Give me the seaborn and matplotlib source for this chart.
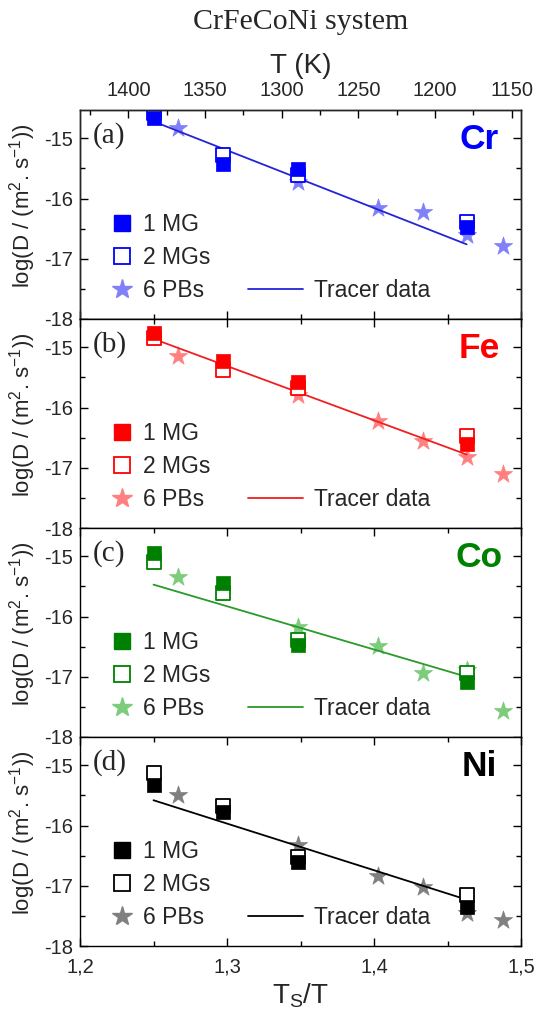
import matplotlib
matplotlib.use("Agg")
import matplotlib.pyplot as plt
from matplotlib.lines import Line2D
from matplotlib.ticker import FixedLocator, MultipleLocator, FuncFormatter
import seaborn as sns
import pandas as pd

# ---------------- data ----------------
elements = ["Cr", "Fe", "Co", "Ni"]
panel_tags = ["(a)", "(b)", "(c)", "(d)"]

x_mg = [1.25, 1.297, 1.348, 1.463]
x_pb = [1.267, 1.348, 1.403, 1.433, 1.463, 1.488]
x_tracer = [1.25, 1.463]

cr_1mg = [-14.67, -15.43, -15.51, -16.47]
cr_2mg = [-14.58, -15.27, -15.61, -16.39]
cr_6pb = [-14.83, -15.72, -16.15, -16.23, -16.61, -16.78]
cr_tracer = [-14.72, -16.76]

fe_1mg = [-14.76, -15.23, -15.57, -16.60]
fe_2mg = [-14.84, -15.37, -15.68, -16.48]
fe_6pb = [-15.14, -15.79, -16.22, -16.55, -16.82, -17.10]
fe_tracer = [-14.86, -16.78]

co_1mg = [-14.94, -15.44, -16.47, -17.09]
co_2mg = [-15.09, -15.61, -16.39, -16.93]
co_6pb = [-15.34, -16.18, -16.49, -16.94, -16.89, -17.57]
co_tracer = [-15.47, -17.00]

ni_1mg = [-15.32, -15.78, -16.60, -17.35]
ni_2mg = [-15.13, -15.67, -16.52, -17.16]
ni_6pb = [-15.50, -16.32, -16.84, -17.02, -17.46, -17.57]
ni_tracer = [-15.58, -17.23]

series_1mg = [cr_1mg, fe_1mg, co_1mg, ni_1mg]
series_2mg = [cr_2mg, fe_2mg, co_2mg, ni_2mg]
series_6pb = [cr_6pb, fe_6pb, co_6pb, ni_6pb]
series_tracer = [cr_tracer, fe_tracer, co_tracer, ni_tracer]

legend_labels = ["1 MG", "2 MGs", "6 PBs", "Tracer data"]
top_ticks = [1400, 1350, 1300, 1250, 1200, 1150]
bottom_ticks = [1.2, 1.3, 1.4, 1.5]

# ---------------- styles ----------------
main_colors = ["#0000ff", "#ff0000", "#008000", "#000000"]
star_colors = ["#8080f8", "#ff8080", "#7ccc7c", "#808080"]
line_colors = ["#2424d8", "#f02020", "#2a9a2a", "#000000"]

sns.set_theme(style="ticks")
plt.rcParams["font.family"] = ["Liberation Sans", "DejaVu Sans"]
plt.rcParams["axes.unicode_minus"] = False
plt.rcParams["mathtext.fontset"] = "custom"
plt.rcParams["mathtext.rm"] = "Liberation Sans"
plt.rcParams["mathtext.it"] = "Liberation Sans"
plt.rcParams["mathtext.bf"] = "Liberation Sans:bold"

fig = plt.figure(figsize=(5.36, 10.10), dpi=100)

left, width = 80 / 536, 441 / 536
ph = 209 / 1010
bottoms = [(1010 - 110) / 1010 - ph * (i + 1) for i in range(4)]

comma = FuncFormatter(lambda v, p: f"{v:.1f}".replace(".", ","))
SQ = 88
ST = 190
TICK_FS = 14.5
LEG_FS = 16.5

for i in range(4):
    ax = fig.add_axes([left, bottoms[i], width, ph])
    c, sc, lc = main_colors[i], star_colors[i], line_colors[i]

    df_pb = pd.DataFrame({"x": x_pb, "y": series_6pb[i]})
    df_2 = pd.DataFrame({"x": x_mg, "y": series_2mg[i]})
    df_1 = pd.DataFrame({"x": x_mg, "y": series_1mg[i]})
    df_tr = pd.DataFrame({"x": x_tracer, "y": series_tracer[i]})

    sns.scatterplot(data=df_pb, x="x", y="y", ax=ax, marker="*", s=ST,
                    color=sc, edgecolor=sc, linewidth=0.5, legend=False, zorder=2)
    sns.lineplot(data=df_tr, x="x", y="y", ax=ax, color=lc, linewidth=1.3,
                 legend=False, zorder=3)
    sns.scatterplot(data=df_2, x="x", y="y", ax=ax, marker="s", s=SQ,
                    facecolor="white", edgecolor=c, linewidth=1.3, legend=False, zorder=4)
    sns.scatterplot(data=df_1, x="x", y="y", ax=ax, marker="s", s=SQ,
                    color=c, edgecolor=c, linewidth=0.5, legend=False, zorder=5)

    ax.set_xlim(1.2, 1.5)
    ax.set_ylim(-18, -14.53)
    ax.xaxis.set_major_locator(FixedLocator(bottom_ticks))
    ax.xaxis.set_minor_locator(MultipleLocator(0.05))
    ax.yaxis.set_major_locator(FixedLocator([-18, -17, -16, -15]))
    ax.yaxis.set_minor_locator(FixedLocator([-17.5, -16.5, -15.5]))
    ax.xaxis.set_major_formatter(comma)

    for s in ax.spines.values():
        s.set_linewidth(1.0)
        s.set_color("black")

    is_last = i == 3
    ax.tick_params(axis="both", which="both", direction="in", color="black",
                   width=1.0, right=True, top=(i > 0), bottom=is_last,
                   labelbottom=is_last)
    ax.tick_params(which="major", length=6)
    ax.tick_params(which="minor", length=3.5)
    ax.tick_params(axis="y", labelsize=TICK_FS, pad=5)
    ax.tick_params(axis="x", labelsize=TICK_FS, pad=8)

    ax.set_ylabel(r"log(D / (m$^{2}$. s$^{-1}$))", fontsize=16)
    ax.yaxis.set_label_coords(-0.095, 0.54)
    if is_last:
        ax.set_xlabel(r"T$_{S}$/T", fontsize=20, labelpad=4)
    else:
        ax.set_xlabel("")

    ax.text(0.03, 0.88, panel_tags[i], transform=ax.transAxes, fontsize=21,
            family="Liberation Serif", va="center", ha="left")
    ax.text(0.905, 0.86, elements[i], transform=ax.transAxes, fontsize=25.5,
            fontweight="bold", color=c, va="center", ha="center")

    h1 = Line2D([], [], linestyle="none", marker="s", markersize=12,
                markerfacecolor=c, markeredgecolor=c)
    h2 = Line2D([], [], linestyle="none", marker="s", markersize=12,
                markerfacecolor="white", markeredgecolor=c, markeredgewidth=1.3)
    h3 = Line2D([], [], linestyle="none", marker="*", markersize=15,
                markerfacecolor=sc, markeredgecolor=sc)
    h4 = Line2D([], [], color=lc, linewidth=1.3)

    leg1 = ax.legend([h1, h2, h3], legend_labels[:3], loc="lower left",
                     bbox_to_anchor=(0.07, 0.08), frameon=False, fontsize=LEG_FS,
                     handlelength=0.95, handletextpad=0.45, labelspacing=0.44,
                     borderpad=0, borderaxespad=0)
    ax.add_artist(leg1)
    ax.legend([h4], legend_labels[3:], loc="lower left",
              bbox_to_anchor=(0.381, 0.08), frameon=False, fontsize=LEG_FS,
              handlelength=2.4, handletextpad=0.5, borderpad=0, borderaxespad=0)

    if i == 0:
        top = ax.twiny()
        top.set_xlim(1431.5, 1144)
        top.xaxis.set_major_locator(FixedLocator(top_ticks))
        top.xaxis.set_minor_locator(MultipleLocator(25))
        top.tick_params(axis="x", which="both", direction="in", color="black",
                        width=1.0, labelsize=TICK_FS, pad=7)
        top.tick_params(which="major", length=6)
        top.tick_params(which="minor", length=3.5)
        top.set_xlabel("T (K)", fontsize=20, labelpad=6)
        for s in top.spines.values():
            s.set_linewidth(1.0)

fig.text((80 + 220.5) / 536, 1 - 22 / 1010, "CrFeCoNi system", fontsize=21.5,
         family="Liberation Serif", ha="center", va="center")

fig.savefig("out.png", dpi=100)
